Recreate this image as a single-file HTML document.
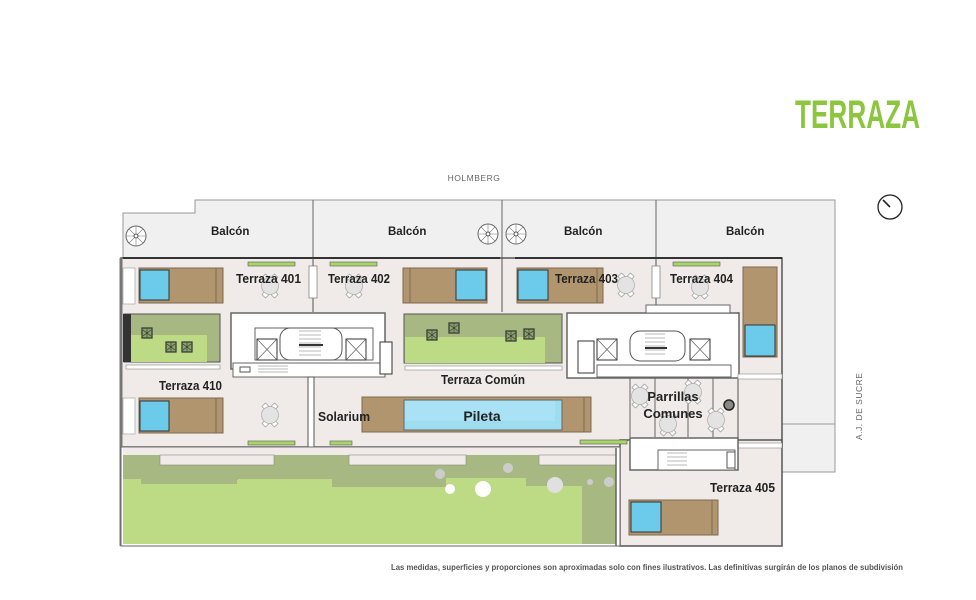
<!DOCTYPE html>
<html><head><meta charset="utf-8"><style>
html,body{margin:0;padding:0;background:#fff;width:976px;height:600px;overflow:hidden}
svg{display:block}
.l{font-family:"Liberation Sans Narrow","Liberation Sans",sans-serif;font-weight:bold;fill:#222}
</style></head><body>
<svg width="976" height="600" viewBox="0 0 976 600" xmlns="http://www.w3.org/2000/svg">
<defs>
<g id="tbl"><rect x="-7" y="-11" width="5" height="5" fill="#fff" stroke="#999" stroke-width="0.7" transform="rotate(45 -4.5 -8.5)"/><rect x="2" y="-11" width="5" height="5" fill="#fff" stroke="#999" stroke-width="0.7" transform="rotate(45 4.5 -8.5)"/><rect x="-7" y="6" width="5" height="5" fill="#fff" stroke="#999" stroke-width="0.7" transform="rotate(45 -4.5 8.5)"/><rect x="2" y="6" width="5" height="5" fill="#fff" stroke="#999" stroke-width="0.7" transform="rotate(45 4.5 8.5)"/><circle r="8.5" fill="#e3e3e3" stroke="#aaa" stroke-width="0.7"/></g>
<g id="plant"><rect x="-5" y="-5" width="10" height="10" fill="#8aa36a" stroke="#333" stroke-width="1.2"/><path d="M-4-3l8 6M-4 3l8-6M0-5v10" stroke="#333" stroke-width="0.6"/></g>
<g id="stair"><circle r="10" fill="#fff" stroke="#666"/><path d="M0 0L10 0M0 0L7 7M0 0L0 10M0 0L-7 7M0 0L-10 0M0 0L-7-7M0 0L0-10M0 0L7-7" stroke="#777" stroke-width="0.6"/><circle r="2" fill="#fff" stroke="#555"/></g>
</defs>

<text x="795" y="128" class="l" style="fill:#8cc63f;font-size:40px" textLength="125" lengthAdjust="spacingAndGlyphs">TERRAZA</text>
<text x="474" y="181" text-anchor="middle" style="font-family:'Liberation Sans',sans-serif;font-size:8.5px;fill:#666;letter-spacing:0.5px">HOLMBERG</text>
<circle cx="890" cy="207" r="12" fill="#fff" stroke="#222" stroke-width="1.3"/><line x1="883" y1="200" x2="890" y2="207" stroke="#222" stroke-width="1.6"/>
<text transform="translate(862 440) rotate(-90)" style="font-family:'Liberation Sans',sans-serif;font-size:8.5px;fill:#666;letter-spacing:0.5px">A.J. DE SUCRE</text>

<path d="M123 213H195V200H835V472H782V258H123Z" fill="#f0f0f0" stroke="#999" stroke-width="1"/>
<line x1="782" y1="424" x2="835" y2="424" stroke="#999"/>
<line x1="313" y1="200" x2="313" y2="258" stroke="#666"/>
<line x1="502" y1="200" x2="502" y2="258" stroke="#666"/>
<line x1="656" y1="200" x2="656" y2="258" stroke="#666"/>
<text x="211" y="235" class="l" style="font-size:11.5px">Balcón</text>
<text x="388" y="235" class="l" style="font-size:11.5px">Balcón</text>
<text x="564" y="235" class="l" style="font-size:11.5px">Balcón</text>
<text x="726" y="235" class="l" style="font-size:11.5px">Balcón</text>
<use href="#stair" x="136" y="236"/><use href="#stair" x="488" y="234"/><use href="#stair" x="516" y="234"/>

<rect x="121" y="258" width="661" height="189" fill="#f0ebe8" stroke="#555" stroke-width="1.5"/>
<rect x="620" y="440" width="162" height="106" fill="#f0ebe8" stroke="#555" stroke-width="1.5"/>
<line x1="121" y1="258" x2="121" y2="546" stroke="#777" stroke-width="3"/>
<line x1="123" y1="258" x2="500" y2="258" stroke="#333" stroke-width="2"/>
<line x1="515" y1="258" x2="782" y2="258" stroke="#333" stroke-width="2"/>
<line x1="313" y1="258" x2="313" y2="312" stroke="#555"/>
<line x1="502" y1="258" x2="502" y2="312" stroke="#555"/>
<line x1="656" y1="258" x2="656" y2="312" stroke="#555"/>
<line x1="738" y1="312" x2="738" y2="440" stroke="#555"/>

<rect x="123" y="268" width="12" height="36" fill="#fff" stroke="#999" stroke-width="0.6"/>
<rect x="139" y="268" width="84" height="35" fill="#b0956f" stroke="#7d6a50"/><rect x="140" y="270" width="29" height="30" fill="#6ccbea" stroke="#333"/><line x1="216" y1="268" x2="216" y2="303" stroke="#7d6a50"/>
<rect x="403" y="268" width="84" height="35" fill="#b0956f" stroke="#7d6a50"/><rect x="456" y="270" width="30" height="30" fill="#6ccbea" stroke="#333"/><line x1="410" y1="268" x2="410" y2="303" stroke="#7d6a50"/>
<rect x="517" y="268" width="86" height="35" fill="#b0956f" stroke="#7d6a50"/><rect x="518" y="270" width="30" height="30" fill="#6ccbea" stroke="#333"/><line x1="597" y1="268" x2="597" y2="303" stroke="#7d6a50"/>
<rect x="743" y="267" width="34" height="90" fill="#b0956f" stroke="#7d6a50"/><rect x="745" y="325" width="30" height="31" fill="#6ccbea" stroke="#333"/>
<rect x="248" y="262" width="47" height="4" fill="#a9d46a" stroke="#555" stroke-width="0.6"/>
<rect x="330" y="262" width="47" height="4" fill="#a9d46a" stroke="#555" stroke-width="0.6"/>
<rect x="673" y="262" width="47" height="4" fill="#a9d46a" stroke="#555" stroke-width="0.6"/>
<rect x="309" y="266" width="8" height="32" fill="#fff" stroke="#777" stroke-width="0.7"/>
<rect x="652" y="266" width="8" height="32" fill="#fff" stroke="#777" stroke-width="0.7"/>
<use href="#tbl" x="270" y="286"/><use href="#tbl" x="354" y="286"/><use href="#tbl" x="626" y="285"/><use href="#tbl" x="700" y="287"/>
<text x="236" y="283" class="l" style="font-size:13px" textLength="65" lengthAdjust="spacingAndGlyphs">Terraza 401</text>
<text x="328" y="283" class="l" style="font-size:13px" textLength="62" lengthAdjust="spacingAndGlyphs">Terraza 402</text>
<text x="555" y="283" class="l" style="font-size:13px" textLength="63" lengthAdjust="spacingAndGlyphs">Terraza 403</text>
<text x="670" y="283" class="l" style="font-size:13px" textLength="63" lengthAdjust="spacingAndGlyphs">Terraza 404</text>

<rect x="124" y="314" width="96" height="48" fill="#a7b882" stroke="#555"/><rect x="130" y="335" width="77" height="27" fill="#bddb84"/><rect x="123" y="314" width="8" height="48" fill="#333"/>
<rect x="126" y="365" width="94" height="4" fill="#fff" stroke="#888" stroke-width="0.6"/>
<use href="#plant" x="147" y="333"/><use href="#plant" x="171" y="347"/><use href="#plant" x="187" y="347"/>
<rect x="404" y="314" width="158" height="49" fill="#a7b882" stroke="#555"/><rect x="405" y="337" width="140" height="26" fill="#bddb84"/>
<rect x="405" y="366" width="157" height="4" fill="#fff" stroke="#888" stroke-width="0.6"/>
<use href="#plant" x="432" y="335"/><use href="#plant" x="454" y="328"/><use href="#plant" x="511" y="336"/><use href="#plant" x="529" y="334"/>

<rect x="231" y="313" width="154" height="56" fill="#fff" stroke="#666" stroke-width="1.5"/>
<rect x="255" y="328" width="118" height="32" fill="none" stroke="#666"/>
<rect x="257" y="339" width="20" height="21" fill="#fff" stroke="#333"/><path d="M257 339l20 21M277 339l-20 21" stroke="#555" stroke-width="0.6"/>
<rect x="346" y="339" width="20" height="21" fill="#fff" stroke="#333"/><path d="M346 339l20 21M366 339l-20 21" stroke="#555" stroke-width="0.6"/>
<rect x="280" y="328" width="62" height="32" rx="10" fill="#fff" stroke="#555"/>
<path d="M299 331h22M299 335h22M299 339h22M299 343h22M299 347h22M299 351h22M299 355h22" stroke="#777" stroke-width="0.6"/><rect x="299" y="344" width="24" height="2" fill="#333"/>
<rect x="233" y="363" width="152" height="14" fill="#fff" stroke="#666"/>
<path d="M258 366h30M258 369h30M258 372h30" stroke="#777" stroke-width="0.6"/><rect x="240" y="367" width="10" height="5" fill="none" stroke="#555"/>
<rect x="380" y="342" width="12" height="32" fill="#fff" stroke="#333"/>
<rect x="308" y="377" width="6" height="70" fill="#fff" stroke="#555"/>

<rect x="567" y="313" width="172" height="65" fill="#fff" stroke="#666" stroke-width="1.5"/>
<rect x="646" y="305" width="84" height="8" fill="#fff" stroke="#666"/>
<rect x="578" y="341" width="16" height="32" fill="#fff" stroke="#333"/>
<rect x="597" y="339" width="20" height="21" fill="#fff" stroke="#333"/><path d="M597 339l20 21M617 339l-20 21" stroke="#555" stroke-width="0.6"/>
<rect x="690" y="339" width="20" height="21" fill="#fff" stroke="#333"/><path d="M690 339l20 21M710 339l-20 21" stroke="#555" stroke-width="0.6"/>
<rect x="630" y="331" width="55" height="30" rx="10" fill="#fff" stroke="#555"/>
<path d="M645 334h20M645 338h20M645 342h20M645 346h20M645 350h20M645 354h20" stroke="#777" stroke-width="0.6"/><rect x="645" y="347" width="22" height="2" fill="#333"/>
<rect x="597" y="365" width="134" height="12" fill="#fff" stroke="#666"/>

<text x="441" y="384" class="l" style="font-size:13px" textLength="84" lengthAdjust="spacingAndGlyphs">Terraza Común</text>
<text x="159" y="390" class="l" style="font-size:13px" textLength="63" lengthAdjust="spacingAndGlyphs">Terraza 410</text>

<rect x="123" y="398" width="12" height="36" fill="#fff" stroke="#999" stroke-width="0.6"/>
<rect x="139" y="398" width="84" height="35" fill="#b0956f" stroke="#7d6a50"/><rect x="140" y="401" width="29" height="30" fill="#6ccbea" stroke="#333"/><line x1="216" y1="398" x2="216" y2="433" stroke="#7d6a50"/>
<use href="#tbl" x="270" y="415"/>
<rect x="362" y="397" width="229" height="35" fill="#b0956f" stroke="#7d6a50"/><rect x="404" y="400" width="158" height="30" fill="#9edcf0" stroke="#666"/><rect x="405" y="401" width="150" height="20" fill="#a9e2f4"/>
<line x1="584" y1="397" x2="584" y2="432" stroke="#7d6a50"/>
<text x="318" y="421" class="l" style="font-size:13px" textLength="52" lengthAdjust="spacingAndGlyphs">Solarium</text>
<text x="482" y="421" text-anchor="middle" class="l" style="font-size:14px">Pileta</text>
<rect x="248" y="441" width="47" height="4" fill="#a9d46a" stroke="#555" stroke-width="0.6"/>
<rect x="330" y="441" width="22" height="4" fill="#a9d46a" stroke="#555" stroke-width="0.6"/>
<rect x="580" y="440" width="47" height="4" fill="#a9d46a" stroke="#555" stroke-width="0.6"/>

<path d="M630 378V437M655 378V437M688 378V437M713 378V437" stroke="#666"/>
<use href="#tbl" x="640" y="396"/><use href="#tbl" x="693" y="392"/><use href="#tbl" x="668" y="424"/><use href="#tbl" x="716" y="420"/>
<circle cx="729" cy="405" r="5" fill="#888" stroke="#222" stroke-width="1.5"/>
<text x="673" y="401" text-anchor="middle" class="l" style="font-size:13px">Parrillas</text>
<text x="673" y="418" text-anchor="middle" class="l" style="font-size:13px">Comunes</text>
<rect x="738" y="374" width="44" height="5" fill="#fff" stroke="#888" stroke-width="0.6"/>
<rect x="738" y="443" width="44" height="5" fill="#fff" stroke="#888" stroke-width="0.6"/>

<rect x="630" y="438" width="108" height="32" fill="#fff" stroke="#666" stroke-width="1.5"/>
<rect x="658" y="450" width="77" height="20" fill="#fff" stroke="#666"/>
<path d="M667 453h20M667 457h20M667 461h20M667 465h20" stroke="#777" stroke-width="0.6"/>
<rect x="727" y="452" width="8" height="16" fill="#fff" stroke="#555"/>

<text x="710" y="492" class="l" style="font-size:13px" textLength="65" lengthAdjust="spacingAndGlyphs">Terraza 405</text>
<rect x="629" y="500" width="89" height="35" fill="#b0956f" stroke="#7d6a50"/><rect x="631" y="502" width="30" height="30" fill="#6ccbea" stroke="#333"/><line x1="712" y1="500" x2="712" y2="535" stroke="#7d6a50"/>

<rect x="121" y="447" width="499" height="99" fill="#fff" stroke="#666"/>
<rect x="123" y="448" width="493" height="96" fill="#f0ebe8"/>
<rect x="123" y="455" width="493" height="89" fill="#a7b882"/>
<path d="M123 479H141V484H237V480H238V479H332V487H446V478H526V486H583V490H616V544H123Z" fill="#bddb84"/>
<rect x="582" y="486" width="34" height="58" fill="#a7b882"/>
<rect x="160" y="455" width="114" height="10" fill="#f0ebe8" stroke="#888" stroke-width="0.6"/>
<rect x="349" y="455" width="117" height="10" fill="#f0ebe8" stroke="#888" stroke-width="0.6"/>
<rect x="539" y="455" width="77" height="10" fill="#f0ebe8" stroke="#888" stroke-width="0.6"/>
<circle cx="440" cy="474" r="5" fill="#ccc"/><circle cx="508" cy="468" r="5" fill="#ccc"/>
<circle cx="450" cy="489" r="5" fill="#fff"/><circle cx="483" cy="489" r="8" fill="#fff"/>
<circle cx="555" cy="485" r="8" fill="#e0e0e0"/><circle cx="590" cy="482" r="3" fill="#ccc"/><circle cx="609" cy="482" r="5" fill="#ccc"/>
<line x1="616" y1="448" x2="616" y2="546" stroke="#666" stroke-width="1.5"/>

<text x="903" y="570" text-anchor="end" style="font-family:'Liberation Sans Narrow','Liberation Sans',sans-serif;font-weight:bold;font-size:8px;fill:#555" textLength="512" lengthAdjust="spacingAndGlyphs">Las medidas, superficies y proporciones son aproximadas solo con fines ilustrativos. Las definitivas surgirán de los planos de subdivisión</text>
</svg>
</body></html>
